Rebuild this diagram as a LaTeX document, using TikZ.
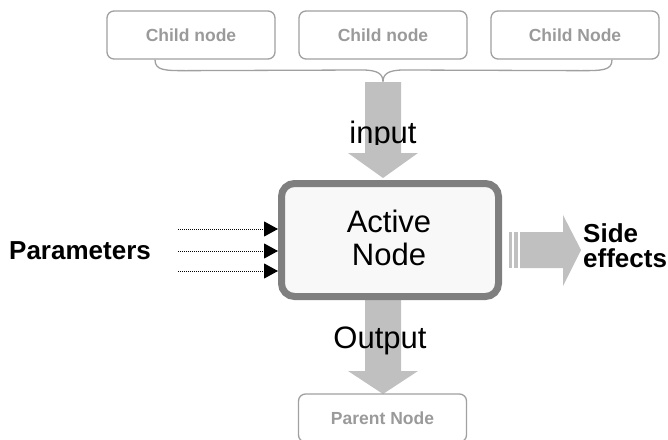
\documentclass[tikz,border=0pt]{standalone}
\usepackage{fontspec}
\setmainfont{Liberation Sans}
\usetikzlibrary{arrows.meta,calc}
\definecolor{childgray}{HTML}{A0A0A0}
\definecolor{childtext}{HTML}{9A9A9A}
\definecolor{arrowgray}{HTML}{C0C0C0}
\definecolor{activeborder}{HTML}{7F7F7F}
\definecolor{activefill}{HTML}{F8F8F8}
\begin{document}
\begin{tikzpicture}[x=1pt,y=-1pt,
  childbox/.style={draw=childgray, line width=1.3pt, rounded corners=7pt,
    minimum width=168pt, minimum height=48pt, inner sep=0pt, text=childtext,
    font=\fontsize{17.5}{20}\selectfont\bfseries},
  blockarrow/.style={fill=arrowgray, draw=none},
  paramarrow/.style={draw=black, line width=1pt, dash pattern=on 1pt off 1pt,
    -{Triangle[length=14pt,width=15pt]}},
  bracestyle/.style={draw=childgray, line width=1.3pt},
  activebox/.style={draw=activeborder, fill=activefill, line width=7pt,
    rounded corners=13pt, minimum width=217pt, minimum height=113pt, inner sep=0pt},
  bigtext/.style={inner sep=0pt, font=\fontsize{31}{33}\selectfont},
  boldlabel/.style={inner sep=0pt, font=\fontsize{26}{25}\selectfont\bfseries}
]
\useasboundingbox (0,0) rectangle (668,439);

% child nodes
\node[childbox] (c1) at (191,35) {Child node};
\node[childbox] (c2) at (383,35) {Child node};
\node[childbox] (c3) at (575,35) {Child Node};

% brace
\coordinate (btip) at (383,82);
\draw[bracestyle] ($(c1.south)+(-36,0)$) .. controls ($(c1.south)+(-36,11)$) and ($(c1.south)+(-26,11)$) .. ($(c1.south)+(-4,11)$)
  -- (362,70) .. controls (378,70) and (383,74) .. (btip)
  .. controls (383,74) and (388,70) .. (404,70)
  -- ($(c3.south)+(5,11)$) .. controls ($(c3.south)+(27,11)$) and ($(c3.south)+(37,11)$) .. ($(c3.south)+(37,0)$);

% input arrow
\fill[blockarrow] (365,82) -- (401,82) -- (401,153) -- (418,153) -- (383,178) -- (348,153) -- (365,153) -- cycle;
\begin{scope}
  \clip (330,100) rectangle (440,144);
  \node[bigtext, anchor=base] (inlabel) at (383,143) {input};
\end{scope}

% output arrow
\fill[blockarrow] (365,295) -- (401,295) -- (401,371) -- (418,371) -- (383,394) -- (348,371) -- (365,371) -- cycle;
\node[bigtext, anchor=base] (outlabel) at (380,348) {Output};

% active node
\node[activebox] (active) at (390,240) {};
\node[bigtext, align=center] (activetext) at (389,237.5) {Active\\Node};

% side effects arrow
\fill[blockarrow] (509,232) rectangle (512,268);
\fill[blockarrow] (514,232) rectangle (518,268);
\fill[blockarrow] (520,232) -- (563,232) -- (563,215) -- (581,250) -- (563,286) -- (563,268) -- (520,268) -- cycle;
\node[boldlabel, anchor=west, align=left] (side) at (583,246) {Side\\effects};

% parameters
\node[boldlabel, anchor=west] (params) at (9,251) {Parameters};
\coordinate (p1) at (178,229);
\coordinate (p2) at (178,251);
\coordinate (p3) at (178,271);
\draw[paramarrow] (p1) -- (p1 -| active.west);
\draw[paramarrow] (p2) -- (p2 -| active.west);
\draw[paramarrow] (p3) -- (p3 -| active.west);

% parent node
\node[childbox] (parent) at (382.5,418) {Parent Node};
\end{tikzpicture}
\end{document}
